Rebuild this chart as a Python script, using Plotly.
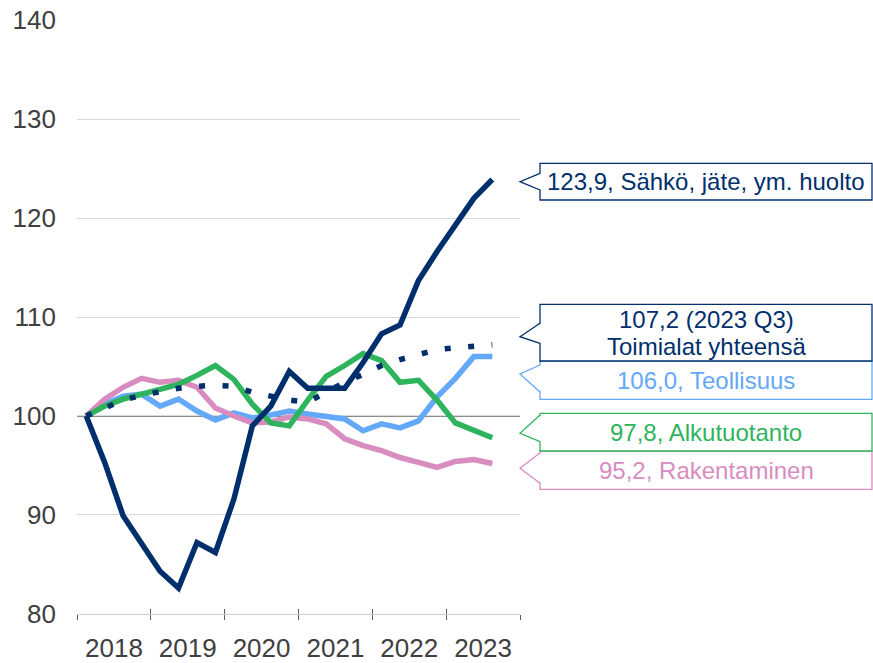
"""
Quarterly index by industry (2018 Q1 = 100), 2018 Q1 - 2023 Q3, with callout labels.
"""
import plotly.graph_objects as go

# ---------------------------------------------------------------------------
# Data
# ---------------------------------------------------------------------------
years = [2018, 2019, 2020, 2021, 2022, 2023]
quarters = [f"{y} Q{q}" for y in years for q in range(1, 5)][:23]

sahko = [100, 95.3, 89.9, 87.2, 84.3, 82.6, 87.2, 86.2, 91.6, 99.0, 101.0, 104.5,
         102.8, 102.8, 102.8, 105.4, 108.3, 109.2, 113.7, 116.6, 119.4, 122.0, 123.9]
yhteensa = [100, 100.8, 101.6, 102.1, 102.5, 102.8, 103.0, 103.1, 103.0, 102.4, 102.0, 101.6,
            101.4, 102.4, 103.4, 104.2, 105.1, 105.7, 106.2, 106.7, 106.9, 107.1, 107.2]
teollisuus = [100, 101.2, 102.0, 102.2, 101.0, 101.7, 100.5, 99.6, 100.3, 99.8, 100.1, 100.5,
              100.2, 99.9, 99.7, 98.5, 99.2, 98.8, 99.5, 101.9, 103.8, 106.0, 106.0]
alkutuotanto = [100, 101.0, 101.7, 102.2, 102.8, 103.2, 104.1, 105.1, 103.7, 101.2, 99.3, 99.0,
                101.6, 104.0, 105.1, 106.3, 105.6, 103.4, 103.6, 101.6, 99.3, 98.6, 97.8]
rakentaminen = [100, 101.7, 102.9, 103.8, 103.4, 103.6, 102.9, 100.8, 100.0, 99.3, 99.4, 99.9,
                99.7, 99.2, 97.7, 97.0, 96.5, 95.8, 95.3, 94.8, 95.4, 95.6, 95.2]

labels = [
    ["123,9, Sähkö, jäte, ym. huolto"],
    ["107,2 (2023 Q3)", "Toimialat yhteensä"],
    ["106,0, Teollisuus"],
    ["97,8, Alkutuotanto"],
    ["95,2, Rakentaminen"],
]

# ---------------------------------------------------------------------------
# Styling
# ---------------------------------------------------------------------------
NAVY = "#002F6C"
LIGHT_BLUE = "#64A8FA"
GREEN = "#2DB45D"
PINK = "#D98CC0"
FONT = "Liberation Sans, Arial, sans-serif"

W, H = 873, 663
L, R, T, B = 77, 520, 20, 614  # plot area in pixels


def px_x(p):
    return (p - L) / (R - L)


def px_y(p):
    return (B - p) / (B - T)


x = list(range(len(quarters)))

fig = go.Figure()
series = [
    (teollisuus, LIGHT_BLUE, "solid"),
    (rakentaminen, PINK, "solid"),
    (alkutuotanto, GREEN, "solid"),
    (yhteensa, NAVY, "6px,17.5px"),
    (sahko, NAVY, "solid"),
]
for vals, color, dash in series:
    fig.add_trace(go.Scatter(
        x=x, y=vals, mode="lines", customdata=quarters,
        line=dict(color=color, width=5.5, dash=dash),
        hoverinfo="skip", showlegend=False,
    ))

# empty traces so the two tick-only axes get drawn
for ax in ("x2", "x3"):
    fig.add_trace(go.Scatter(x=[None], y=[None], xaxis=ax, yaxis="y",
                             mode="lines", hoverinfo="skip", showlegend=False))

fig.add_hline(y=100, line=dict(color="#8C8C8C", width=2), layer="below")

# callouts: label lines, colour, box top, box bottom, wedge top, tip, wedge bottom (pixels)
box_x0, box_x1 = 540, 872
callouts = [
    (labels[0], NAVY, 163.3, 200.0, 173.3, 181.7, 190.0),
    (labels[2], LIGHT_BLUE, 361.0, 399.3, 365.0, 374.0, 392.0),
    (labels[1], NAVY, 304.3, 361.0, 323.3, 336.7, 343.3),
    (labels[4], PINK, 451.0, 489.3, 452.7, 468.3, 483.3),
    (labels[3], GREEN, 413.3, 451.0, 415.0, 433.3, 441.7),
]
line_gap = 26.7
for lines, color, top, bot, wt, tip, wb in callouts:
    fig.add_shape(type="rect", xref="paper", yref="paper",
                  x0=px_x(box_x0), x1=px_x(box_x1), y0=px_y(bot), y1=px_y(top),
                  line=dict(color=color, width=1.3), fillcolor="white", layer="above")
    fig.add_shape(type="path", xref="paper", yref="paper",
                  path=(f"M {px_x(box_x0 + 1.5)},{px_y(wt)} L {px_x(R)},{px_y(tip)} "
                        f"L {px_x(box_x0 + 1.5)},{px_y(wb)} Z"),
                  line=dict(width=0), fillcolor="white", layer="above")
    fig.add_shape(type="path", xref="paper", yref="paper",
                  path=(f"M {px_x(box_x0)},{px_y(wt)} L {px_x(R)},{px_y(tip)} "
                        f"L {px_x(box_x0)},{px_y(wb)}"),
                  line=dict(color=color, width=1.3), fillcolor="rgba(0,0,0,0)", layer="above")
    mid = (top + bot) / 2
    for k, text in enumerate(lines):
        cy = mid + (k - (len(lines) - 1) / 2) * line_gap
        fig.add_annotation(xref="paper", yref="paper",
                           x=px_x((box_x0 + box_x1) / 2), y=px_y(cy),
                           text=text, showarrow=False, xanchor="center", yanchor="middle",
                           font=dict(family=FONT, size=24, color=color))

xrange = [-0.5, len(years) * 4 - 0.5]
boundaries = [4 * i - 0.5 for i in range(len(years) + 1)]
tick_axis = dict(
    anchor="y", side="bottom", range=xrange, automargin=False,
    tickmode="array", tickvals=boundaries, ticklen=5,
    tickcolor="#595959", tickwidth=1.3, showticklabels=False,
    showgrid=False, zeroline=False, showline=False,
)

fig.update_layout(
    width=W, height=H, autosize=False,
    margin=dict(l=L, r=W - R, t=T, b=H - B, pad=0),
    paper_bgcolor="white", plot_bgcolor="white",
    font=dict(family=FONT, color="#404040"),
    xaxis=dict(
        range=xrange, tickmode="array", automargin=False,
        tickvals=[4 * i + 1.5 for i in range(len(years))],
        ticktext=[str(y) for y in years],
        ticks="", showgrid=False, zeroline=False,
        showline=True, linecolor="#D0D0D0", linewidth=1.3,
        tickfont=dict(size=26, color="#404040"), ticklabelstandoff=11,
    ),
    xaxis2=dict(overlaying="x", ticks="outside", **tick_axis),
    xaxis3=dict(overlaying="x", ticks="inside", **tick_axis),
    yaxis=dict(
        range=[79.98, 140.03], tick0=80, dtick=10, ticks="", automargin=False,
        showgrid=True, gridcolor="#D9D9D9", gridwidth=1.3, zeroline=False,
        showline=False, tickfont=dict(size=26, color="#404040"), ticklabelstandoff=20,
    ),
)

fig.write_html("out.html", config={"displayModeBar": False},
               post_script="document.body.style.margin = '0';")
